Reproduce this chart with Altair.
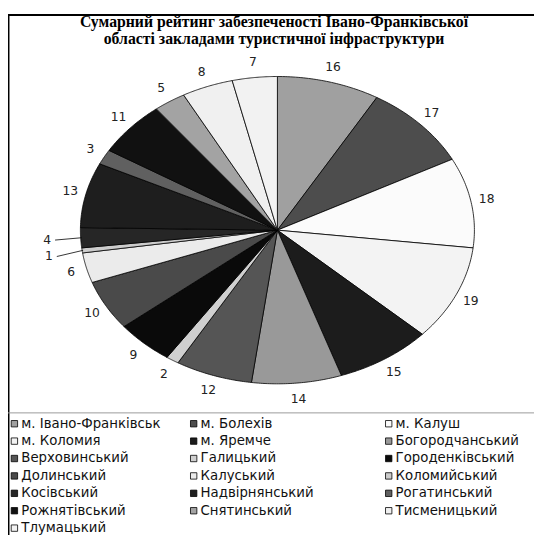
import altair as alt
import pandas as pd

# ---- data ----
names = ["м. Івано-Франківськ", "м. Болехів", "м. Калуш",
         "м. Коломия", "м. Яремче", "Богородчанський",
         "Верховинський", "Галицький", "Городенківський",
         "Долинський", "Калуський", "Коломийський",
         "Косівський", "Надвірнянський", "Рогатинський",
         "Рожнятівський", "Снятинський", "Тисменицький",
         "Тлумацький"]
values = [16, 17, 18, 19, 15, 14, 12, 2, 9, 10, 6, 1, 4, 13, 3, 11, 5, 8, 7]
colors = ["#a0a0a0", "#4d4d4d", "#fbfbfb", "#f3f3f3", "#1c1c1c", "#999999",
          "#555555", "#d0d0d0", "#0a0a0a", "#4a4a4a", "#ebebeb", "#cccccc",
          "#262626", "#1e1e1e", "#606060", "#111111", "#a3a3a3", "#f0f0f0",
          "#f2f2f2"]
title_lines = ["Сумарний рейтинг забезпеченості Івано-Франківської",
               "області закладами туристичної інфраструктури"]

W, H = 534, 531
df = pd.DataFrame({"name": names, "value": values, "idx": list(range(len(names)))})

fill_scale = alt.Scale(domain=names, range=colors)
# ellipse: centre (273.5, 221.5) in view px, rx=200, ry=156
xs = alt.Scale(domain=[-1, 1], range=[73.5, 473.5], zero=False, nice=False)
ys = alt.Scale(domain=[-1, 1], range=[377.5, 65.5], zero=False, nice=False)

base = alt.Chart(df).transform_window(
    cum="sum(value)", sort=[alt.SortField("idx")], frame=[None, 0]
).transform_joinaggregate(total="sum(value)").transform_calculate(
    a0="2*PI*(datum.cum - datum.value)/datum.total",
    a1="2*PI*datum.cum/datum.total",
    amid="PI*(2*datum.cum - datum.value)/datum.total",
)

N = 40
pie = base.transform_calculate(k=f"sequence(0, {N + 3})").transform_flatten(["k"]).transform_calculate(
    a=f"datum.a0 + (datum.a1 - datum.a0)*(datum.k - 1)/{N}"
).transform_calculate(
    px=f"(datum.k == 0 || datum.k == {N + 2}) ? 0 : sin(datum.a)",
    py=f"(datum.k == 0 || datum.k == {N + 2}) ? 0 : cos(datum.a)",
).mark_line(stroke="black", strokeWidth=0.8, strokeJoin="round").encode(
    x=alt.X("px:Q", scale=xs, axis=None),
    y=alt.Y("py:Q", scale=ys, axis=None),
    order=alt.Order("k:Q"),
    detail="name:N",
    fill=alt.Fill("name:N", scale=fill_scale, legend=None),
)

lead = "(datum.amid > 4.5 && datum.amid < 4.72)"
lab_base = base.transform_calculate(
    lx=f"{lead} ? 1.17*sin(datum.amid) : 1.08*sin(datum.amid)",
    ly=f"{lead} ? 1.30*cos(datum.amid) : 1.103*cos(datum.amid)",
)
labels = lab_base.mark_text(font="DejaVu Sans", fontSize=12.5, color="#222",
                            align="center", baseline="middle").encode(
    x=alt.X("lx:Q", scale=xs, axis=None),
    y=alt.Y("ly:Q", scale=ys, axis=None),
    text="value:Q",
)
leaders = lab_base.transform_filter(lead).transform_calculate(
    rx1="datum.lx + 0.04", rx2="0.995*sin(datum.amid)", ry2="0.995*cos(datum.amid)"
).mark_rule(color="black", strokeWidth=0.8).encode(
    x=alt.X("rx1:Q", scale=xs, axis=None),
    y=alt.Y("ly:Q", scale=ys, axis=None),
    x2="rx2:Q",
    y2="ry2:Q",
)

# ---- legend built from the same data ----
lxs = alt.Scale(domain=[0, 1, 2], range=[6.5, 188.5, 386.5], zero=False, nice=False)
lys = alt.Scale(domain=[0, 6], range=[418, 524], zero=False, nice=False)
leg = alt.Chart(df).transform_calculate(row="floor(datum.idx/3)", col="datum.idx % 3")
leg_sq = leg.mark_square(size=42, stroke="black", strokeWidth=0.8, opacity=1).encode(
    x=alt.X("col:Q", scale=lxs, axis=None),
    y=alt.Y("row:Q", scale=lys, axis=None),
    fill=alt.Fill("name:N", scale=fill_scale, legend=None),
)
leg_tx = leg.mark_text(align="left", baseline="middle", dx=7, font="DejaVu Sans",
                       fontSize=13.5, color="#111").encode(
    x=alt.X("col:Q", scale=lxs, axis=None),
    y=alt.Y("row:Q", scale=lys, axis=None),
    text="name:N",
)

# ---- frame, separator, title ----
one = alt.Data(values=[{}])
top_line = alt.Chart(one).mark_rule(color="black", strokeWidth=2).encode(
    x=alt.value(0), x2=alt.value(W), y=alt.value(3))
left_line = alt.Chart(one).mark_rule(color="black", strokeWidth=3).encode(
    x=alt.value(0), y=alt.value(2), y2=alt.value(H))
sep_line = alt.Chart(one).mark_rule(color="#999999", strokeWidth=1).encode(
    x=alt.value(0), x2=alt.value(W), y=alt.value(407))
t1 = alt.Chart(one).mark_text(font="Liberation Serif", fontSize=16, fontWeight="bold",
                              align="center", baseline="alphabetic", color="black").encode(
    x=alt.value(270), y=alt.value(15), text=alt.value(title_lines[0]))
t2 = alt.Chart(one).mark_text(font="Liberation Serif", fontSize=16, fontWeight="bold",
                              align="center", baseline="alphabetic", color="black").encode(
    x=alt.value(270), y=alt.value(33), text=alt.value(title_lines[1]))

chart = alt.layer(
    pie, leaders, labels, leg_sq, leg_tx, top_line, left_line, sep_line, t1, t2
).resolve_scale(x="independent", y="independent").properties(
    width=W, height=H, padding=0, autosize="none", background="white"
).configure_view(stroke=None)

chart.save("out.html", embed_options={"renderer": "svg", "actions": False})
